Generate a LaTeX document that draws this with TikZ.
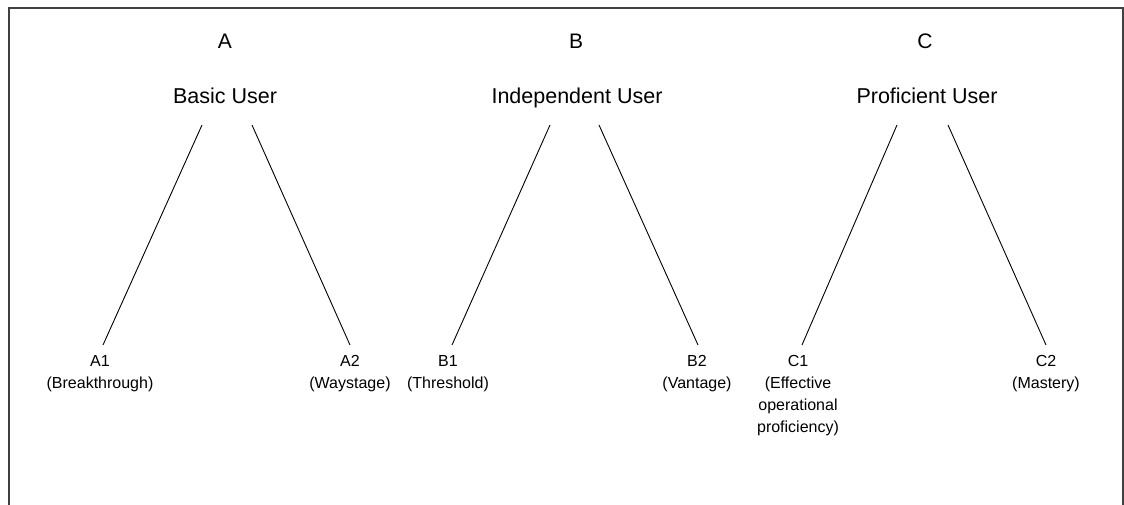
\documentclass[tikz,border=0pt]{standalone}
\usepackage{fontspec}
\setmainfont{Liberation Sans}
\begin{document}
\begin{tikzpicture}[x=1pt,y=-1pt,
  frame/.style={line width=1.4pt,draw=black!75},
  branch/.style={line width=0.9pt,draw=black},
  level/.style={font=\fontsize{21}{24}\selectfont,inner sep=0pt,anchor=base},
  band/.style={font=\fontsize{21.5}{24}\selectfont,inner sep=0pt,anchor=base},
  sublevel/.style={font=\fontsize{16}{22}\selectfont,align=center,inner sep=0pt,anchor=north}]
\useasboundingbox (0,0) rectangle (1124,505);
% open frame: top edge and both sides
\draw[frame] (9,505) -- (9,8) -- (1123,8) -- (1123,505);

% level letters
\node[level] (A) at (225,49) {A};
\node[level] (B) at (576,49) {B};
\node[level] (C) at (925,49) {C};

% level names
\node[band] (Abasic) at (225,104) {Basic User};
\node[band] (Bind) at (577,104) {Independent User};
\node[band] (Cprof) at (927,104) {Proficient User};

% sub-levels
\node[sublevel] (A1) at (100,355) {A1\\(Breakthrough)};
\node[sublevel] (A2) at (350,355) {A2\\(Waystage)};
\node[sublevel] (B1) at (448,355) {B1\\(Threshold)};
\node[sublevel] (B2) at (697,355) {B2\\(Vantage)};
\node[sublevel] (C1) at (798,355) {C1\\(Effective\\operational\\proficiency)};
\node[sublevel] (C2) at (1046,355) {C2\\(Mastery)};

% branch end points
\coordinate (Al) at (202,125);
\coordinate (Ar) at (252,125);
\coordinate (Bl) at (550,125);
\coordinate (Br) at (599,125);
\coordinate (Cl) at (897,125);
\coordinate (Cr) at (948,125);
\coordinate (A1t) at (103,345);
\coordinate (A2t) at (350,345);
\coordinate (B1t) at (452,345);
\coordinate (B2t) at (698,345);
\coordinate (C1t) at (802,345);
\coordinate (C2t) at (1046,345);

\draw[branch] (Al) -- (A1t);
\draw[branch] (Ar) -- (A2t);
\draw[branch] (Bl) -- (B1t);
\draw[branch] (Br) -- (B2t);
\draw[branch] (Cl) -- (C1t);
\draw[branch] (Cr) -- (C2t);
\end{tikzpicture}
\end{document}
